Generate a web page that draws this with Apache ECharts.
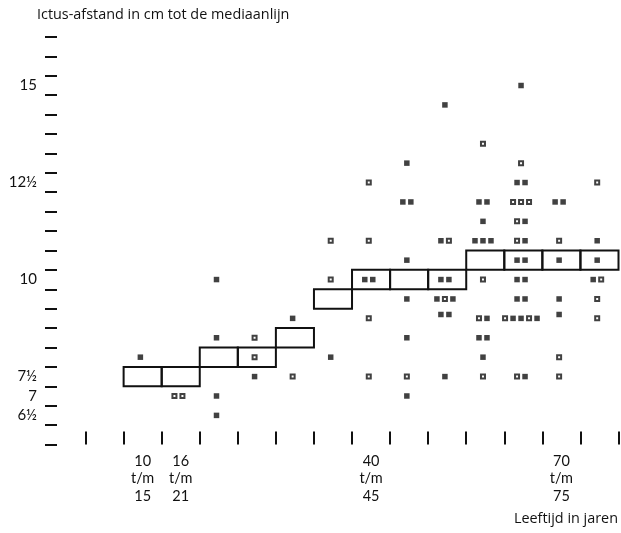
<!DOCTYPE html>
<html>
<head>
<meta charset="utf-8">
<script src="https://cdn.jsdelivr.net/npm/echarts@6/dist/echarts.min.js"></script>
<style>
  html, body { margin: 0; padding: 0; background: #fff; }
  #chart { width: 621px; height: 533px; }
</style>
</head>
<body>
<div id="chart"></div>
<script>
// Age groups (one per bin between x ticks); only four are labelled in the original
const ageGroups = ['', '10 t/m 15', '16 t/m 21', '', '', '', '', '40 t/m 45', '', '', '', '', '70 t/m 75', ''];
// Median ictus distance per age group (drawn as boxes)
const medians = [null, 7.5, 7.5, 8, 8, 8.5, 9.5, 10, 10, 10, 10.5, 10.5, 10.5, 10.5];
// Individual measurements per age group (cm)
const dotValues = [
  [],
  [8],
  [7, 7],
  [10, 8.5, 7, 6.5],
  [8.5, 8, 7.5],
  [9, 7.5],
  [11, 10, 8],
  [12.5, 11, 10, 10, 9, 7.5],
  [13, 12, 12, 10.5, 9.5, 8.5, 7.5, 7],
  [14.5, 11, 11, 10, 10, 9.5, 9.5, 9.5, 9.1, 9.1, 7.5],
  [13.5, 12, 12, 11.5, 11, 11, 11, 10, 9, 9, 8.5, 8.5, 8, 7.5],
  [15, 13, 12.5, 12.5, 12, 12, 12, 11.5, 11.5, 11, 11, 10.5, 10.5, 10, 10, 9.5, 9.5, 9, 9, 9, 9, 9, 7.5, 7.5],
  [12, 12, 11, 10.5, 9.5, 9.1, 8, 7.5],
  [12.5, 11, 10.5, 10, 10, 9.5, 9]
];
// Marker kind per measurement: F = filled square, O = open square
const dotKinds = [
  '',
  'F',
  'OO',
  'FFFF',
  'OOF',
  'FO',
  'OOF',
  'OOFFOO',
  'FFFFFFOF',
  'FFOFFFOFFFF',
  'OFFFFFFOOFFFFO',
  'FOFFOOOOFOFFFFFFFOFFOFOF',
  'FFOFFFOO',
  'OFFFOOO'
];
// Y tick labels
const yLabelValues = [6.5, 7, 7.5, 10, 12.5, 15];
const yLabelTexts = ['6½', '7', '7½', '10', '12½', '15'];

// ---- build series data ----
const boxData = [];
medians.forEach((m, k) => { if (m !== null) boxData.push([k, m]); });

const filled = [], open = [];
const SPREAD = 0.21, SHIFT = -0.06;
dotValues.forEach((vals, k) => {
  const counts = {}, seen = {};
  vals.forEach(v => { counts[v] = (counts[v] || 0) + 1; });
  vals.forEach((v, j) => {
    const i = seen[v] || 0; seen[v] = i + 1;
    const n = counts[v];
    const x = k + 0.5 + SHIFT + (i - (n - 1) / 2) * SPREAD;
    (dotKinds[k][j] === 'O' ? open : filled).push([x, v]);
  });
});

const yTicks = [];
for (let v = 5.75; v <= 16.26; v += 0.5) yTicks.push(+v.toFixed(2));
const xTicks = ageGroups.map((_, k) => k).concat([ageGroups.length]);
const xLabelPos = [];
ageGroups.forEach((g, k) => { if (g) xLabelPos.push(k + 0.5); });

const INK = '#111';
const FONT = 'Lato';

const chart = echarts.init(document.getElementById('chart'), null, { renderer: 'canvas' });
chart.setOption({
  backgroundColor: '#fff',
  animation: false,
  textStyle: { fontFamily: FONT, color: INK },
  grid: { left: 57, right: 2.5, top: 37, bottom: 88.5, containLabel: false },
  xAxis: {
    type: 'value', min: -0.75, max: 14,
    axisLine: { show: false, onZero: false },
    splitLine: { show: false },
    axisTick: { show: true, inside: true, length: 13, customValues: xTicks,
      lineStyle: { color: INK, width: 2 } },
    axisLabel: {
      customValues: xLabelPos,
      formatter: v => ageGroups[Math.floor(v)].split(' ').join('\n'),
      fontFamily: FONT, fontSize: 14.5, color: INK, lineHeight: 17.5, margin: 8
    }
  },
  yAxis: {
    type: 'value', min: 5.75, max: 16.25,
    axisLine: { show: false, onZero: false },
    splitLine: { show: false },
    axisTick: { show: true, length: 12, customValues: yTicks,
      lineStyle: { color: INK, width: 2 } },
    axisLabel: {
      customValues: yLabelValues,
      formatter: v => yLabelTexts[yLabelValues.indexOf(+v)] || '',
      fontFamily: FONT, fontSize: 15, color: INK, margin: 20
    }
  },
  graphic: [
    { type: 'text', left: 37, top: 8,
      style: { text: 'Ictus-afstand in cm tot de mediaanlijn', font: '14.4px "Open Sans"', fill: INK } },
    { type: 'text', right: 3, top: 512,
      style: { text: 'Leeftijd in jaren', font: '14.4px "Open Sans"', fill: INK } }
  ],
  series: [
    {
      type: 'custom',
      data: boxData,
      encode: { x: 0, y: 1 },
      z: 2,
      renderItem: (params, api) => {
        const k = api.value(0), m = api.value(1);
        const p1 = api.coord([k, m + 0.25]);
        const p2 = api.coord([k + 1, m - 0.25]);
        return {
          type: 'rect',
          shape: { x: p1[0], y: p1[1], width: p2[0] - p1[0], height: p2[1] - p1[1] },
          style: { fill: 'rgba(255,255,255,0)', stroke: INK, lineWidth: 2 }
        };
      }
    },
    {
      type: 'scatter', data: filled, symbol: 'rect', symbolSize: 5.5, z: 3,
      itemStyle: { color: INK }
    },
    {
      type: 'scatter', data: open, symbol: 'rect', symbolSize: 4, z: 3,
      itemStyle: { color: '#fff', borderColor: INK, borderWidth: 2 }
    }
  ]
});
</script>
</body>
</html>
